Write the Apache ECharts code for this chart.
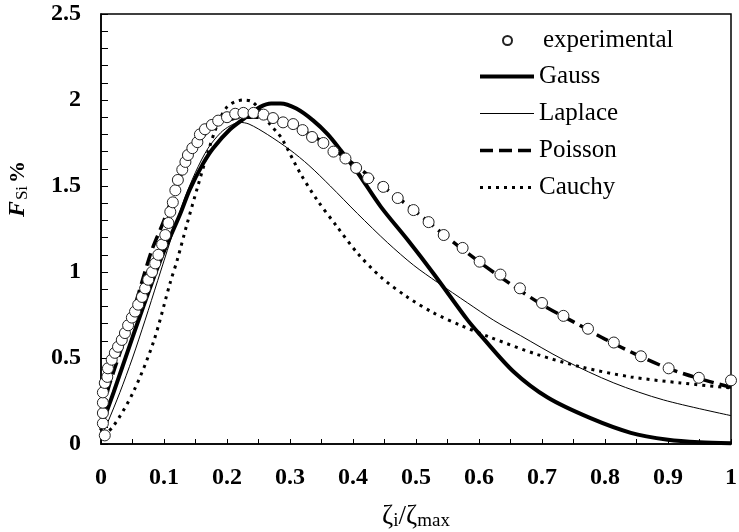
<!DOCTYPE html>
<html><head><meta charset="utf-8">
<script src="https://cdn.jsdelivr.net/npm/echarts@6/dist/echarts.min.js"></script>
<style>html,body{margin:0;padding:0;background:#fff}#c{width:739px;height:532px}</style>
</head><body><div id="c"></div>
<script>
// Experimental points
var expX = [0.006,0.003,0.003,0.003,0.003,0.006,0.010,0.011,0.017,0.022,0.027,0.033,0.038,0.043,0.049,0.054,0.059,0.065,0.070,0.075,0.081,0.086,0.091,0.097,0.102,0.107,0.110,0.114,0.118,0.122,0.129,0.134,0.138,0.145,0.153,0.157,0.165,0.176,0.186,0.200,0.213,0.226,0.242,0.258,0.273,0.289,0.305,0.320,0.335,0.353,0.369,0.388,0.405,0.424,0.448,0.471,0.496,0.520,0.544,0.574,0.601,0.634,0.665,0.700,0.734,0.773,0.814,0.857,0.901,0.949,1.0];
var expY = [0.05,0.12,0.18,0.24,0.30,0.355,0.39,0.44,0.49,0.53,0.565,0.605,0.645,0.69,0.735,0.77,0.81,0.855,0.905,0.955,1.0,1.05,1.10,1.16,1.215,1.285,1.35,1.405,1.475,1.535,1.595,1.64,1.68,1.72,1.755,1.80,1.83,1.855,1.88,1.90,1.92,1.925,1.925,1.915,1.895,1.87,1.86,1.825,1.785,1.75,1.70,1.66,1.605,1.545,1.495,1.43,1.36,1.29,1.215,1.14,1.06,0.985,0.905,0.82,0.745,0.67,0.59,0.51,0.44,0.385,0.37];
// Gauss
var gaussX = [0,0.02,0.05,0.08,0.1,0.126,0.141,0.162,0.178,0.205,0.23,0.253,0.27,0.285,0.31,0.337,0.36,0.38,0.407,0.444,0.486,0.528,0.582,0.603,0.655,0.709,0.777,0.841,0.9,0.95,1.0];
var gaussY = [0.1,0.3,0.62,0.93,1.12,1.34,1.48,1.63,1.72,1.83,1.9,1.96,1.98,1.98,1.95,1.88,1.8,1.71,1.58,1.38,1.19,0.99,0.72,0.63,0.42,0.27,0.15,0.065,0.025,0.01,0.005];
// Laplace
var laplaceX = [0,0.01,0.03,0.05,0.07,0.09,0.11,0.13,0.15,0.17,0.19,0.205,0.22,0.235,0.264,0.3,0.33,0.364,0.407,0.455,0.496,0.534,0.582,0.623,0.666,0.734,0.814,0.893,1.0];
var laplaceY = [0.04,0.12,0.3,0.5,0.72,0.95,1.18,1.4,1.58,1.72,1.81,1.85,1.87,1.86,1.8,1.71,1.62,1.5,1.34,1.17,1.04,0.94,0.82,0.72,0.63,0.49,0.355,0.256,0.165];
// Poisson
var poissonX = [0,0.01,0.02,0.04,0.06,0.08,0.1,0.12,0.14,0.16,0.18,0.2,0.22,0.24,0.26,0.28,0.3,0.35,0.4,0.45,0.5,0.55,0.6,0.65,0.7,0.75,0.8,0.85,0.9,0.95,1.0];
var poissonY = [0.08,0.3,0.42,0.64,0.88,1.12,1.3,1.5,1.67,1.78,1.85,1.88,1.9,1.9,1.9,1.88,1.86,1.76,1.63,1.49,1.35,1.2,1.06,0.93,0.81,0.71,0.61,0.52,0.44,0.38,0.33];
// Cauchy
var cauchyX = [0.003,0.019,0.051,0.083,0.11,0.121,0.137,0.153,0.17,0.185,0.2,0.213,0.226,0.24,0.255,0.269,0.28,0.288,0.316,0.343,0.375,0.407,0.444,0.486,0.528,0.571,0.618,0.693,0.762,0.841,0.92,1.0];
var cauchyY = [0.05,0.1,0.3,0.59,0.94,1.07,1.285,1.49,1.7,1.86,1.96,1.99,2.0,1.99,1.93,1.855,1.81,1.77,1.576,1.419,1.262,1.11,0.971,0.855,0.762,0.69,0.62,0.52,0.448,0.39,0.355,0.326];

var xTickLabels = ['0','0.1','0.2','0.3','0.4','0.5','0.6','0.7','0.8','0.9','1'];
var yTickLabels = ['0','0.5','1','1.5','2','2.5'];

function zip(a, b) { return a.map(function (v, i) { return [v, b[i]]; }); }

var FONT = 'Liberation Serif';
var chart = echarts.init(document.getElementById('c'), null, {renderer: 'canvas'});
var labelStyle = {fontFamily: FONT, fontWeight: 'bold', fontSize: 24, color: '#000'};

var styles = {
  Gauss: {color: '#000', width: 4, type: 'solid'},
  Laplace: {color: '#000', width: 1, type: 'solid'},
  Poisson: {color: '#000', width: 3.5, type: [13, 6]},
  Cauchy: {color: '#000', width: 3, type: [3, 5]}
};

chart.setOption({
  animation: false,
  backgroundColor: '#fff',
  grid: {left: 101, right: 8, top: 14, bottom: 88, show: true, borderColor: '#000', borderWidth: 1.5, outerBoundsMode: 'none', containLabel: false},
  legend: [{
    orient: 'vertical', left: 502, top: 28, padding: 0, itemWidth: 9, itemHeight: 9,
    data: ['experimental'],
    textStyle: {fontFamily: FONT, fontSize: 25, color: '#000', padding: [0, 0, 0, 26]}
  }, {
    orient: 'vertical', left: 478, top: 64, padding: 0, itemWidth: 54, itemHeight: 14, itemGap: 12,
    data: ['Gauss', 'Laplace', 'Poisson', 'Cauchy'].map(function (n) {
      return {name: n, itemStyle: {opacity: 0}, lineStyle: styles[n]};
    }),
    textStyle: {fontFamily: FONT, fontSize: 25, color: '#000'}
  }],
  xAxis: {
    type: 'value', min: 0, max: 1, interval: 0.1,
    axisLine: {lineStyle: {color: '#000', width: 1.5}},
    axisTick: {inside: true, length: 5, lineStyle: {color: '#000'}},
    minorTick: {show: true, splitNumber: 2, length: 5, lineStyle: {color: '#000'}},
    splitLine: {show: false},
    axisLabel: Object.assign({margin: 22, formatter: function (v) { return xTickLabels[Math.round(v * 10)]; }}, labelStyle),
    name: '{z|ζ}{s|i}{z|/ζ}{s|max}', nameLocation: 'middle', nameGap: 58,
    nameTextStyle: {rich: {
      z: {fontFamily: FONT, fontSize: 27, color: '#000'},
      s: {fontFamily: FONT, fontSize: 19, color: '#000', padding: [10, 0, 0, 0]}
    }}
  },
  yAxis: {
    type: 'value', min: 0, max: 2.5, interval: 0.5,
    axisLine: {lineStyle: {color: '#000', width: 1.5}},
    axisTick: {inside: true, length: 7, lineStyle: {color: '#000'}},
    minorTick: {show: true, splitNumber: 5, length: 7, lineStyle: {color: '#000'}},
    splitLine: {show: false},
    axisLabel: Object.assign({margin: 20, formatter: function (v) { return yTickLabels[Math.round(v * 2)]; }}, labelStyle),
    name: '{f|F}{s|Si}{p|%}', nameLocation: 'middle', nameRotate: 90, nameGap: 70,
    nameTextStyle: {padding: [0, 0, 0, 80], rich: {
      f: {fontFamily: FONT, fontSize: 24, fontStyle: 'italic', fontWeight: 'bold', color: '#000'},
      s: {fontFamily: FONT, fontSize: 17, color: '#000', padding: [9, 3, 0, 1]},
      p: {fontFamily: FONT, fontSize: 22, fontWeight: 'bold', color: '#000'}
    }}
  },
  series: [
    {name: 'Gauss', type: 'line', data: zip(gaussX, gaussY), symbol: 'none', smooth: 0.3, z: 2,
     lineStyle: styles.Gauss, itemStyle: {color: '#000'}},
    {name: 'Laplace', type: 'line', data: zip(laplaceX, laplaceY), symbol: 'none', smooth: 0.3, z: 2,
     lineStyle: styles.Laplace, itemStyle: {color: '#000'}},
    {name: 'Poisson', type: 'line', data: zip(poissonX, poissonY), symbol: 'none', smooth: 0.3, z: 2,
     lineStyle: styles.Poisson, itemStyle: {color: '#000'}},
    {name: 'Cauchy', type: 'line', data: zip(cauchyX, cauchyY), symbol: 'none', smooth: 0.3, z: 2,
     lineStyle: styles.Cauchy, itemStyle: {color: '#000'}},
    {name: 'experimental', type: 'scatter', data: zip(expX, expY), symbol: 'circle', symbolSize: 11, z: 3,
     itemStyle: {color: '#fff', borderColor: '#222', borderWidth: 1, opacity: 1}}
  ]
});
</script></body></html>
